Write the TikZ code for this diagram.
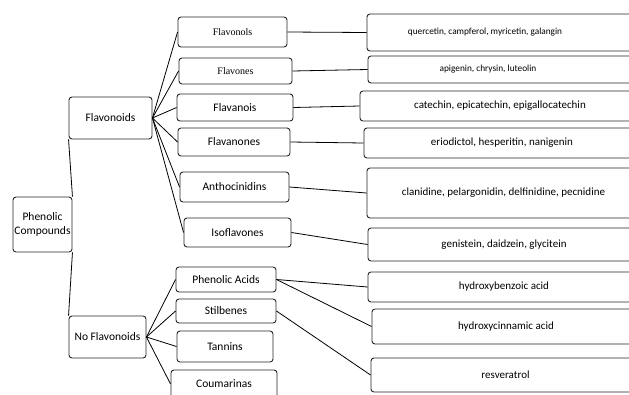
\documentclass[tikz,border=0pt]{standalone}
\usepackage{fontspec}
\setmainfont{Carlito}
\newfontfamily\serifface{Liberation Serif}
\usetikzlibrary{positioning}

\begin{document}
\begin{tikzpicture}[x=1pt, y=-1pt,
    box/.style={draw=black!85, line width=0.9pt, rounded corners=3pt, inner sep=1pt, align=center, font=\fontsize{11.5}{13.5}\selectfont},
    leaf/.style={box, font=\fontsize{11}{13}\selectfont},
    small/.style={box, font=\fontsize{9.3}{11}\selectfont},
    old/.style={box, font=\serifface\fontsize{10}{12}\selectfont},
    link/.style={draw=black, line width=0.8pt}]
\useasboundingbox (0,0) rectangle (629,394);

\node[box, minimum width=59pt, minimum height=55pt] (phenolic) at (42.5,224.5) {Phenolic\\Compounds};
\node[box, minimum width=83pt, minimum height=42pt] (flavonoids) at (110.5,118) {Flavonoids};
\node[box, minimum width=77pt, minimum height=42pt] (noflavonoids) at (107.5,337) {No Flavonoids};

\node[old, minimum width=109pt, minimum height=30pt] (flavonols) at (232.5,32) {Flavonols};
\node[old, minimum width=113pt, minimum height=26pt] (flavones) at (235.5,71) {Flavones};
\node[box, minimum width=116pt, minimum height=27pt] (flavanois) at (235,107.5) {Flavanois};
\node[box, minimum width=112pt, minimum height=28pt] (flavanones) at (234,142) {Flavanones};
\node[box, minimum width=109pt, minimum height=30pt] (anthocinidins) at (234.5,187) {Anthocinidins};
\node[box, minimum width=107pt, minimum height=29pt] (isoflavones) at (237.5,232.5) {Isoflavones};
\node[box, minimum width=100pt, minimum height=25pt] (acids) at (226,279.5) {Phenolic Acids};
\node[box, minimum width=100pt, minimum height=24pt] (stilbenes) at (226,311) {Stilbenes};
\node[box, minimum width=96pt, minimum height=31pt] (tannins) at (225,346.5) {Tannins};
\node[box, minimum width=106pt, minimum height=28pt] (coumarinas) at (224,384) {Coumarinas};

\node[small, minimum width=273pt, minimum height=37pt] (quercetin) at (503.5,32.5) {\hspace*{-37pt}quercetin, campferol, myricetin, galangin};
\node[small, minimum width=272pt, minimum height=27pt] (apigenin) at (504,69.5) {\hspace*{-32pt}apigenin, chrysin, luteolin};
\node[leaf, minimum width=280pt, minimum height=30pt] (catechin) at (500,106) {catechin, epicatechin, epigallocatechin};
\node[leaf, minimum width=276pt, minimum height=30pt] (eriodictol) at (502,143) {eriodictol, hesperitin, nanigenin};
\node[leaf, minimum width=273pt, minimum height=50pt] (clanidine) at (503.5,193) {clanidine, pelargonidin, delfinidine, pecnidine};
\node[leaf, minimum width=272pt, minimum height=33pt] (genistein) at (504,244.5) {genistein, daidzein, glycitein};
\node[leaf, minimum width=272pt, minimum height=30pt] (benzoic) at (504,287) {hydroxybenzoic acid};
\node[leaf, minimum width=268pt, minimum height=35pt] (cinnamic) at (506,326.5) {hydroxycinnamic acid};
\node[leaf, minimum width=269pt, minimum height=34pt] (resveratrol) at (505.5,375) {resveratrol};

\draw[link] (phenolic.north east) -- (flavonoids.south west);
\draw[link] (phenolic.south east) -- (noflavonoids.north west);

\foreach \n in {flavonols, flavones, flavanois, flavanones, anthocinidins, isoflavones}
    \draw[link] (flavonoids.east) -- (\n.west);
\foreach \n in {acids, stilbenes, tannins, coumarinas}
    \draw[link] (noflavonoids.east) -- (\n.west);

\draw[link] (flavonols.east) -- (quercetin.west);
\draw[link] (flavones.east) -- (apigenin.west);
\draw[link] (flavanois.east) -- (catechin.west);
\draw[link] (flavanones.east) -- (eriodictol.west);
\draw[link] (anthocinidins.east) -- (clanidine.west);
\draw[link] (isoflavones.east) -- (genistein.west);
\draw[link] (acids.east) -- (benzoic.west);
\draw[link] (acids.east) -- (cinnamic.west);
\draw[link] (stilbenes.east) -- (resveratrol.west);

\end{tikzpicture}
\end{document}
